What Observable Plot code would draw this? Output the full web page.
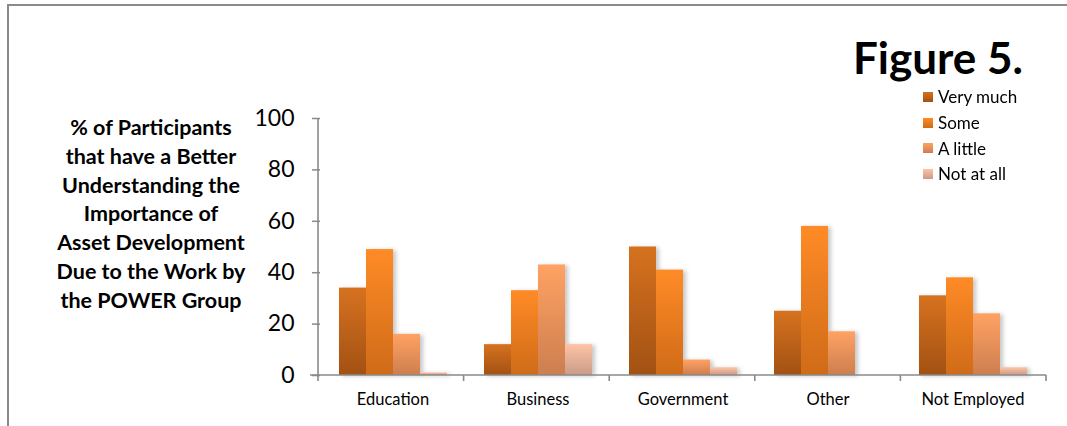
<!DOCTYPE html>
<html>
<head>
<meta charset="utf-8">
<script src="https://cdn.jsdelivr.net/npm/d3@7"></script>
<script src="https://cdn.jsdelivr.net/npm/@observablehq/plot@0.6"></script>
<style>
  html, body { margin: 0; padding: 0; background: #fff; }
  #wrap { position: relative; width: 1067px; height: 426px; overflow: hidden; font-family: Lato, "Open Sans", sans-serif; }
  #border { position: absolute; left: 7px; top: 4px; width: 1070px; height: 440px; border-top: 2px solid #8a8a8a; border-left: 2px solid #8a8a8a; }
  #title { position: absolute; right: 44px; top: 35px; font-size: 44px; font-weight: 700; line-height: 1; color: #000; }
  #ylabel { position: absolute; left: 40px; width: 222px; top: 113px; text-align: center; font-size: 21.5px; font-weight: 700; line-height: 28.8px; color: #000; }
  #legend { position: absolute; left: 923px; top: 84px; font-size: 17px; color: #000; }
  #legend .item { display: flex; align-items: center; height: 25.7px; }
  #legend .sw { width: 10px; height: 10px; margin-right: 5px; }
  #chart { position: absolute; left: 0; top: 0; }
  #chart svg { font-family: Lato, "Open Sans", sans-serif; overflow: visible; }
  #chart [aria-label^="y-axis"] text { font-size: 23px; fill: #000; }
  #chart [aria-label^="y-axis"] line, #chart [aria-label^="y-axis"] path { stroke: #8a8a8a; stroke-width: 1.5; }
  #chart [aria-label^="fx-axis"] text { font-size: 16.5px; fill: #000; }
  #chart g[aria-label="bar"] { filter: drop-shadow(3px 1px 2px rgba(0,0,0,0.22)); }
</style>
</head>
<body>
<div id="wrap">
  <div id="border"></div>
  <div id="chart"></div>
  <div id="title">Figure 5.</div>
  <div id="ylabel"></div>
  <div id="legend"></div>
</div>
<script>
const categories = ["Education", "Business", "Government", "Other", "Not Employed"];
const series = ["Very much", "Some", "A little", "Not at all"];
const veryMuch = [34, 12, 50, 25, 31];
const some = [49, 33, 41, 58, 38];
const aLittle = [16, 43, 6, 17, 24];
const notAtAll = [1, 12, 3, 0, 3];
const yTicks = [0, 20, 40, 60, 80, 100];
const yLabelLines = ["% of Participants", "that have a Better", "Understanding the", "Importance of", "Asset Development", "Due to the Work by", "the POWER Group"];
const gradTop = ["#d6721f", "#ff8b26", "#ffa263", "#ffc3a5"];
const gradBottom = ["#a25113", "#cf6b18", "#cd7e4f", "#c99b88"];

const seriesValues = [veryMuch, some, aLittle, notAtAll];
const data = [];
categories.forEach((c, i) => series.forEach((s, j) => data.push({category: c, series: s, value: seriesValues[j][i]})));

const gradIds = series.map((s, i) => "grad" + i);

const chart = Plot.plot({
  width: 1067,
  height: 426,
  marginLeft: 318,
  marginRight: 21,
  marginTop: 118,
  marginBottom: 51,
  fx: {domain: categories, padding: 0, label: null, tickSize: 0, tickPadding: 18},
  x: {domain: series, paddingInner: 0, paddingOuter: 0.62, axis: null},
  y: {domain: [0, 100], ticks: yTicks, tickSize: 8, tickPadding: 18, label: null},
  color: {type: "ordinal", domain: series, range: gradIds.map(id => `url(#${id})`)},
  marks: [
    Plot.barY(data, {fx: "category", x: "series", y: "value", fill: "series"})
  ]
});

const svg = d3.select(chart.tagName.toLowerCase() === "svg" ? chart : chart.querySelector("svg"));
const defs = svg.insert("defs", ":first-child");
series.forEach((s, i) => {
  const g = defs.append("linearGradient").attr("id", gradIds[i]).attr("x1", 0).attr("y1", 0).attr("x2", 0).attr("y2", 1);
  g.append("stop").attr("offset", "0%").attr("stop-color", gradTop[i]);
  g.append("stop").attr("offset", "100%").attr("stop-color", gradBottom[i]);
});

// axis lines and category boundary ticks from the library's scales
const fxS = chart.scale("fx");
const yS = chart.scale("y");
const fxBand = d3.scaleBand(fxS.domain, fxS.range).padding(0);
const yLin = d3.scaleLinear(yS.domain, yS.range);
const y0 = yLin(0);
const xL = fxS.range[0], xR = fxS.range[1];
const ax = svg.append("g").attr("stroke", "#8a8a8a").attr("stroke-width", 1.6);
ax.append("line").attr("x1", xL).attr("x2", xL).attr("y1", yLin(100)).attr("y2", y0);
ax.append("line").attr("x1", xL - 8).attr("x2", xR).attr("y1", y0).attr("y2", y0);
const bounds = categories.map(c => fxBand(c)).concat([fxBand(categories[categories.length - 1]) + fxBand.bandwidth()]);
bounds.forEach(b => ax.append("line").attr("x1", b).attr("x2", b).attr("y1", y0).attr("y2", y0 + 6));

document.getElementById("chart").appendChild(chart);

document.getElementById("ylabel").innerHTML = yLabelLines.join("<br>");
const legend = document.getElementById("legend");
series.forEach((s, i) => {
  const item = document.createElement("div");
  item.className = "item";
  item.innerHTML = `<div class="sw" style="background:linear-gradient(${gradTop[i]}, ${gradBottom[i]})"></div><span>${s}</span>`;
  legend.appendChild(item);
});
</script>
</body>
</html>
